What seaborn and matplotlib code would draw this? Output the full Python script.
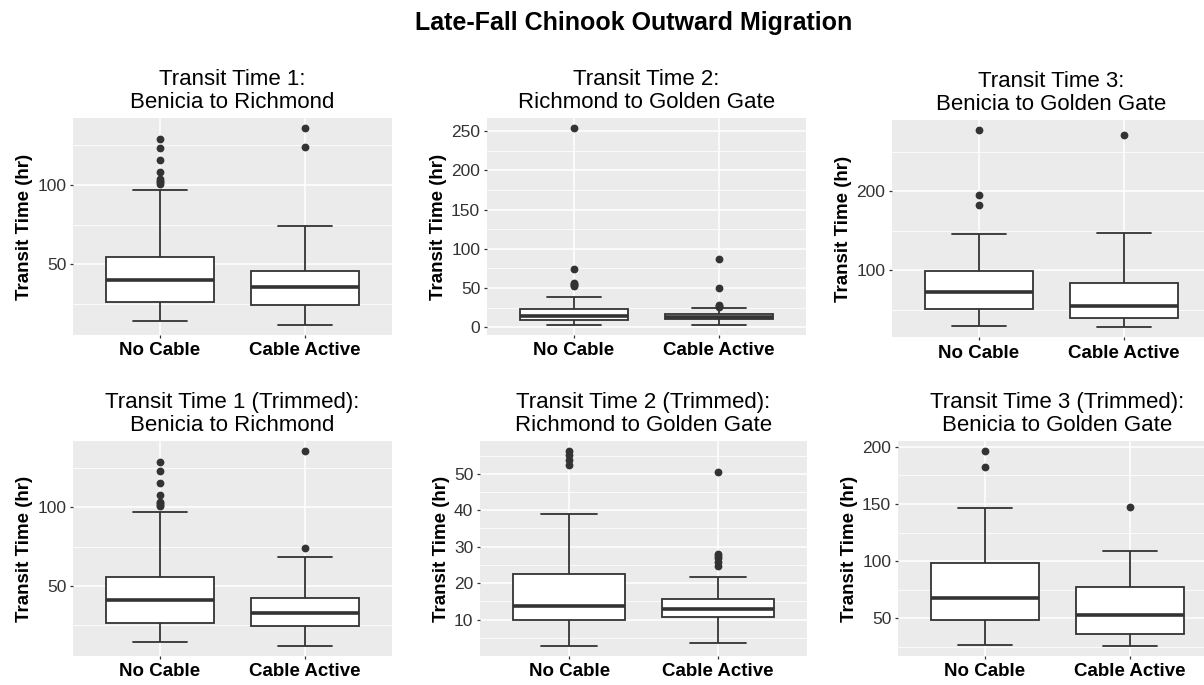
import matplotlib
matplotlib.use("Agg")
import matplotlib.pyplot as plt
import seaborn as sns
import pandas as pd
from matplotlib.ticker import MultipleLocator

# ---------------- data ----------------
groups = ["No Cable", "Cable Active"]

panel_titles = [
    "Transit Time 1:\nBenicia to Richmond",
    "Transit Time 2:\nRichmond to Golden Gate",
    "Transit Time 3:\nBenicia to Golden Gate",
    "Transit Time 1 (Trimmed):\nBenicia to Richmond",
    "Transit Time 2 (Trimmed):\nRichmond to Golden Gate",
    "Transit Time 3 (Trimmed):\nBenicia to Golden Gate",
]

# box summaries: [lower whisker, Q1, median, Q3, upper whisker]; outliers listed separately
tt1_no = [14.2, 26.7, 40.0, 54.8, 96.7]
tt1_no_out = [100.5, 101.5, 102.5, 103.5, 108.0, 115.6, 123.3, 128.5]
tt1_cab = [11.9, 24.4, 35.8, 46.2, 74.2]
tt1_cab_out = [123.5, 135.8]

tt2_no = [2.9, 10.0, 14.0, 23.0, 39.3]
tt2_no_out = [52.5, 53.8, 55.2, 56.3, 74.8, 254.0]
tt2_cab = [3.5, 10.5, 13.0, 16.5, 25.0]
tt2_cab_out = [26.5, 27.5, 28.0, 50.7, 87.4]

tt3_no = [29.0, 50.8, 71.9, 99.5, 146.3]
tt3_no_out = [182.0, 195.8, 277.8]
tt3_cab = [27.7, 39.0, 54.2, 83.2, 147.0]
tt3_cab_out = [271.5]

tt1t_no = [14.2, 26.7, 41.2, 55.6, 96.7]
tt1t_no_out = [100.5, 101.5, 102.5, 103.5, 108.0, 115.4, 122.9, 128.5]
tt1t_cab = [11.7, 24.4, 32.5, 42.1, 68.5]
tt1t_cab_out = [74.0, 135.8]

tt2t_no = [2.7, 10.0, 13.8, 22.5, 38.9]
tt2t_no_out = [52.5, 53.8, 55.2, 56.3]
tt2t_cab = [3.5, 10.6, 13.0, 15.6, 21.6]
tt2t_cab_out = [24.8, 25.7, 26.8, 27.5, 28.0, 50.5]

tt3t_no = [26.9, 48.5, 67.9, 98.8, 146.2]
tt3t_no_out = [182.8, 196.6]
tt3t_cab = [25.7, 36.7, 52.6, 77.4, 109.4]
tt3t_cab_out = [147.0]

panel_data = [
    [(tt1_no, tt1_no_out), (tt1_cab, tt1_cab_out)],
    [(tt2_no, tt2_no_out), (tt2_cab, tt2_cab_out)],
    [(tt3_no, tt3_no_out), (tt3_cab, tt3_cab_out)],
    [(tt1t_no, tt1t_no_out), (tt1t_cab, tt1t_cab_out)],
    [(tt2t_no, tt2t_no_out), (tt2t_cab, tt2t_cab_out)],
    [(tt3t_no, tt3t_no_out), (tt3t_cab, tt3t_cab_out)],
]

major_steps = [50, 50, 100, 50, 10, 50]
minor_steps = [25, 25, 50, 25, 5, 25]


def observations(summary, outliers):
    """Observation list whose boxplot statistics equal the read summary."""
    lo, q1, med, q3, hi = summary
    m = len(outliers) + 1
    return [lo] + [q1] * m + [med] * m + [q3] * m + [hi] + list(outliers)


# ---------------- styling ----------------
sns.set_theme(style="darkgrid", rc={
    "axes.facecolor": "#EBEBEB",
    "grid.color": "white",
    "grid.linewidth": 1.1,
    "axes.axisbelow": True,
})
plt.rcParams["font.family"] = ["Liberation Sans", "DejaVu Sans"]

W, H = 1204, 685
fig = plt.figure(figsize=(W / 100, H / 100), dpi=100)

# axes boxes in pixels: left, top, width, height
boxes = [
    (73, 118, 319, 217),
    (487, 118, 319, 217),
    (892, 120, 319, 217),
    (73, 441, 319, 215),
    (480, 441, 327, 215),
    (898, 441, 319, 215),
]
xlabel_pads = [3, 3, 3, 2.5, 2.5, 2.5]

line_col = "#333333"

for i, (l, t, w, h) in enumerate(boxes):
    ax = fig.add_axes([l / W, 1 - (t + h) / H, w / W, h / H])
    rows = []
    for g, (summ, outs) in zip(groups, panel_data[i]):
        for v in observations(summ, outs):
            rows.append({"group": g, "value": v})
    df = pd.DataFrame(rows)

    sns.boxplot(
        data=df, x="group", y="value", order=groups, ax=ax,
        width=0.75, color="white", saturation=1, linecolor=line_col,
        linewidth=1.3,
        flierprops=dict(marker="o", markersize=4.6, markerfacecolor=line_col,
                        markeredgecolor=line_col),
        medianprops=dict(linewidth=2.6, color=line_col),
    )

    vmin, vmax = df["value"].min(), df["value"].max()
    rng = vmax - vmin
    ax.set_ylim(vmin - 0.05 * rng, vmax + 0.05 * rng)
    ax.set_xlim(-0.6, 1.6)

    ax.yaxis.set_major_locator(MultipleLocator(major_steps[i]))
    ax.yaxis.set_minor_locator(MultipleLocator(minor_steps[i]))
    ax.grid(which="major", color="white", linewidth=1.1)
    ax.grid(which="minor", axis="y", color="white", linewidth=0.55)
    ax.grid(which="minor", axis="x", visible=False)

    ax.set_xticks([0, 1])
    ax.set_xticklabels(groups, fontsize=13.5, fontweight="bold", color="black")
    ax.tick_params(axis="y", which="major", left=True, length=2.4, width=0.9,
                   color=line_col, labelsize=12.5, labelcolor="#333333", pad=2.5)
    ax.tick_params(axis="x", which="major", bottom=True, length=2.4, width=0.9,
                   color=line_col, pad=xlabel_pads[i])
    ax.tick_params(which="minor", left=False, bottom=False, length=0)

    ax.set_xlabel("")
    ax.set_ylabel("Transit Time (hr)", fontsize=13.5, fontweight="bold",
                  color="black", labelpad=3)
    ax.set_title(panel_titles[i], fontsize=16, linespacing=1.12, pad=7.5,
                 color="black")
    for s in ax.spines.values():
        s.set_visible(False)

fig.text(634 / W, 1 - 23 / H, "Late-Fall Chinook Outward Migration",
         ha="center", va="center", fontsize=18, fontweight="bold", color="black")

fig.savefig("out.png", dpi=100, facecolor="white")
